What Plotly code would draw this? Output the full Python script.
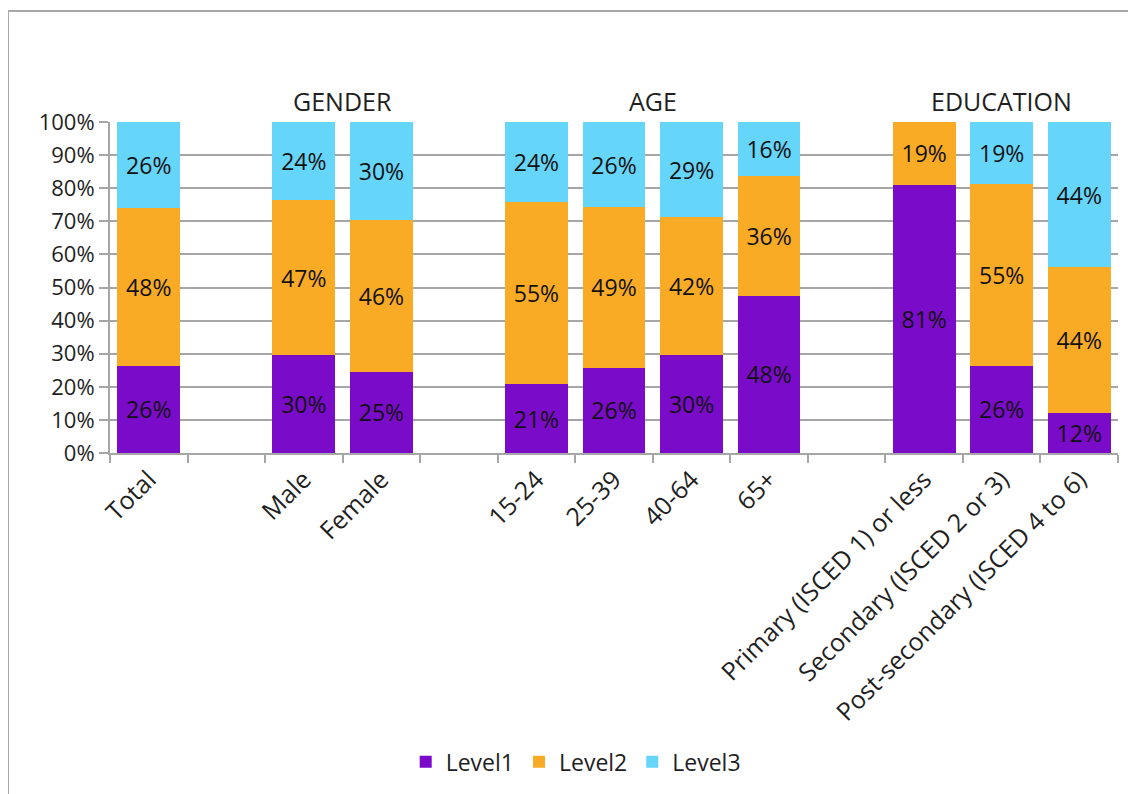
import plotly.graph_objects as go

# Categories (blank-named slots are the visual gaps between groups)
categories = ["Total", " ", "Male", "Female", "  ", "15-24", "25-39", "40-64", "65+", "   ",
              "Primary (ISCED 1) or less", "Secondary (ISCED 2 or 3)", "Post-secondary (ISCED 4 to 6)"]

level1 = [26.3, None, 29.6, 24.6, None, 20.8, 25.8, 29.5, 47.5, None, 81.0, 26.3, 12.1]
level2 = [47.6, None, 46.7, 45.8, None, 55.0, 48.6, 41.9, 36.2, None, 19.0, 55.0, 44.1]
level3 = [26.0, None, 23.6, 29.5, None, 24.1, 25.5, 28.5, 16.2, None, None, 18.6, 43.7]

series_names = ["Level1", "Level2", "Level3"]
colors = ["#7A0BC9", "#F9AB25", "#66D5FA"]

group_labels = ["GENDER", "AGE", "EDUCATION"]
group_centers = [2.5, 6.5, 11]

FONT = "Open Sans"
TXT = "#1F1F1F"

fig = go.Figure()
for name, vals, col in zip(series_names, [level1, level2, level3], colors):
    fig.add_trace(go.Bar(
        x=categories, y=vals, name=name,
        marker=dict(color=col, line=dict(width=0)),
        texttemplate="%{y:.0f}%", textposition="inside", insidetextanchor="middle",
        textfont=dict(family=FONT, size=23, color="#111111"),
        textangle=0, cliponaxis=False,
    ))

for lab, cx in zip(group_labels, group_centers):
    fig.add_annotation(x=cx, y=1.063, xref="x", yref="paper", text=lab, showarrow=False,
                       font=dict(family=FONT, size=25, color=TXT), xanchor="center", yanchor="middle")

# outer chart frame
fig.add_shape(type="rect", xref="paper", yref="paper", x0=-0.1012, x1=1.2, y0=-1.2, y1=1.3353,
              line=dict(color="#A8A8A8", width=2), fillcolor="rgba(0,0,0,0)", layer="below")

fig.update_layout(
    width=1136, height=794,
    margin=dict(l=102, r=26, t=114, b=349),
    barmode="stack", bargap=0.19,
    plot_bgcolor="white", paper_bgcolor="white",
    font=dict(family=FONT, size=22, color=TXT),
    uniformtext=dict(mode="show", minsize=10),
    showlegend=True,
    legend=dict(orientation="h", x=0.462, y=-0.933, xanchor="center", yanchor="middle",
                font=dict(family=FONT, size=23, color=TXT), itemsizing="constant",
                traceorder="normal", itemwidth=30),
    xaxis=dict(type="category", categoryorder="array", categoryarray=categories,
               range=[-0.5, 12.5], tickangle=-45, showline=True, linecolor="#A6A6A6", linewidth=2,
               ticks="outside", tickson="boundaries", ticklen=8, tickcolor="#A6A6A6", tickwidth=2,
               showgrid=False, tickfont=dict(family=FONT, size=25, color=TXT)),
    yaxis=dict(range=[0, 100], dtick=10, ticksuffix="%", showline=True, linecolor="#A6A6A6",
               linewidth=2, ticks="outside", ticklen=9, tickcolor="#A6A6A6", tickwidth=2,
               showgrid=True, gridcolor="#A6A6A6", gridwidth=2, zeroline=False,
               tickfont=dict(family=FONT, size=22, color=TXT)),
)

fig.write_html("out.html")
